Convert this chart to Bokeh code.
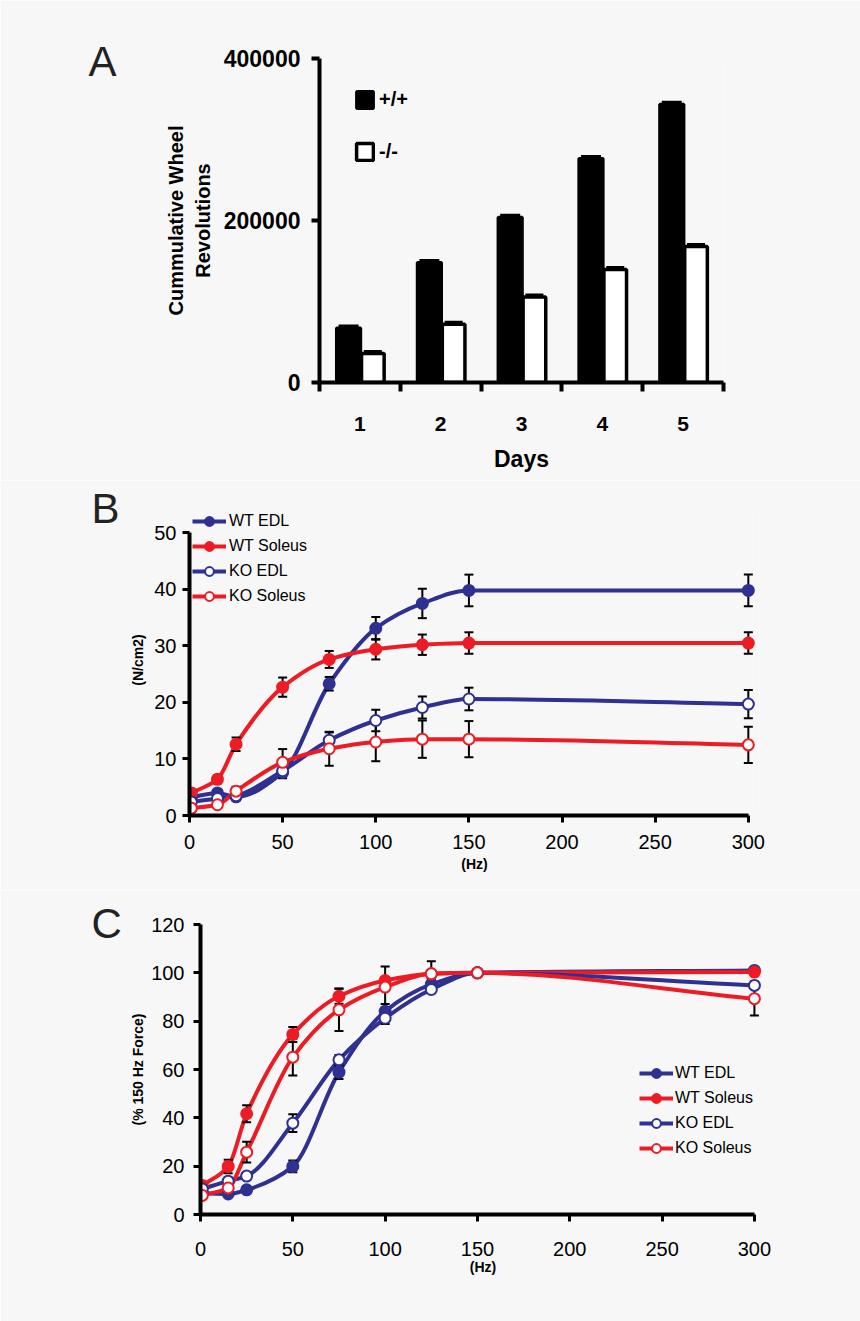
import numpy as np
from bokeh.plotting import figure
from bokeh.models import (ColumnDataSource, FixedTicker, SingleIntervalTicker, Legend,
                          LegendItem, BasicTickFormatter, Range1d)
from bokeh.layouts import column
from bokeh.transform import dodge
from bokeh.embed import file_html
from bokeh.resources import INLINE

# ---------------- data ----------------
# Panel A
days = [1, 2, 3, 4, 5]
wt_revs = [67400, 148000, 204000, 276500, 343500]
wt_revs_err = [2500, 2500, 2500, 2500, 2500]
ko_revs = [35800, 72000, 105500, 139500, 168000]
ko_revs_err = [2500, 2500, 2500, 2500, 2500]
a_yticks = [0, 200000, 400000]

# Panel B (N/cm2)
hz = [1, 15, 25, 50, 75, 100, 125, 150, 300]
b_wt_edl = [3.2, 4.0, 3.3, 7.6, 23.3, 33.1, 37.5, 39.8, 39.8]
b_wt_edl_err = [0.3, 0.4, 0.5, 1.0, 1.2, 2.0, 2.6, 2.8, 2.8]
b_wt_sol = [4.0, 6.4, 12.6, 22.7, 27.6, 29.4, 30.2, 30.5, 30.5]
b_wt_sol_err = [0.3, 0.7, 1.2, 1.7, 1.5, 1.8, 1.8, 1.9, 1.9]
b_ko_edl = [2.4, 3.0, 3.5, 7.9, 13.3, 16.8, 19.1, 20.6, 19.7]
b_ko_edl_err = [0.3, 0.4, 0.6, 0.9, 1.4, 1.9, 1.95, 2.0, 2.5]
b_ko_sol = [1.3, 1.9, 4.3, 9.4, 11.8, 13.0, 13.5, 13.5, 12.5]
b_ko_sol_err = [0.3, 0.4, 0.8, 2.35, 3.0, 3.4, 3.3, 3.2, 3.2]

# Panel C (% 150 Hz force)
c_wt_edl = [8.8, 8.5, 10.2, 19.9, 58.9, 84.1, 95.2, 100, 101]
c_wt_edl_err = [0.5, 0.8, 1.0, 2.4, 2.8, 3.0, 2.0, 0, 1.0]
c_wt_sol = [12.0, 19.9, 41.7, 74.5, 90.3, 96.8, 99.6, 100, 100.3]
c_wt_sol_err = [0.8, 2.8, 3.5, 3.1, 3.1, 1.5, 1.0, 0, 1.0]
c_ko_edl = [10.6, 13.8, 15.9, 37.8, 64.0, 81.2, 93.1, 100, 94.8]
c_ko_edl_err = [0.6, 1.0, 1.5, 3.7, 2.0, 2.4, 1.5, 0, 1.5]
c_ko_sol = [7.9, 11.0, 25.8, 65.1, 84.7, 94.1, 99.6, 100, 89.3]
c_ko_sol_err = [0.6, 1.0, 4.3, 7.6, 8.8, 8.5, 5.2, 0, 7.0]

series_names = ["WT EDL", "WT Soleus", "KO EDL", "KO Soleus"]

# ---------------- style ----------------
BG = "#f7f7f7"
NAVY = "#2e3192"
RED = "#ed1c24"
FONT = "Liberation Sans"


def style_fig(p, letter, offset, standoff):
    p.xgrid.grid_line_color = None
    p.ygrid.grid_line_color = None
    p.outline_line_color = None
    p.background_fill_color = BG
    p.border_fill_color = BG
    for ax in p.axis:
        ax.axis_line_width = 4
        ax.axis_line_color = "black"
        ax.major_tick_line_width = 3
        ax.major_tick_line_color = "black"
        ax.major_tick_in = 0
        ax.major_tick_out = 7
        ax.minor_tick_line_color = None
        ax.major_label_text_font = FONT
        ax.axis_label_text_font = FONT
        ax.major_label_text_color = "black"
        ax.axis_label_text_color = "black"
    p.title.text = letter
    p.title.align = "left"
    p.title.vertical_align = "bottom"
    p.title.offset = offset
    p.title.standoff = standoff
    p.title.text_font = FONT
    p.title.text_font_size = "42px"
    p.title.text_font_style = "normal"
    p.title.text_color = "#222222"


def pchip_bezier(x, y):
    x = np.asarray(x, float)
    y = np.asarray(y, float)
    h = np.diff(x)
    d = np.diff(y) / h
    n = len(x)
    m = np.zeros(n)
    m[0] = d[0]
    m[-1] = d[-1]
    for i in range(1, n - 1):
        if d[i - 1] * d[i] <= 0:
            m[i] = 0.0
        else:
            w1 = 2 * h[i] + h[i - 1]
            w2 = h[i] + 2 * h[i - 1]
            m[i] = (w1 + w2) / (w1 / d[i - 1] + w2 / d[i])
    return dict(x0=x[:-1], y0=y[:-1], x1=x[1:], y1=y[1:],
                cx0=x[:-1] + h / 3, cy0=y[:-1] + m[:-1] * h / 3,
                cx1=x[1:] - h / 3, cy1=y[1:] - m[1:] * h / 3)


def add_errors(p, x, y, e):
    xs = [xi for xi, ei in zip(x, e) if ei > 0]
    lo = [yi - ei for yi, ei in zip(y, e) if ei > 0]
    hi = [yi + ei for yi, ei in zip(y, e) if ei > 0]
    p.segment(x0=xs, y0=lo, x1=xs, y1=hi, line_color="black", line_width=2)
    p.scatter(x=xs + xs, y=lo + hi, marker="dash", size=9,
              line_color="black", line_width=2)


def line_panel(p, ys, errs):
    colors = [NAVY, RED, NAVY, RED]
    fills = [NAVY, RED, "white", "white"]
    lines = []
    for yv, c in zip(ys, colors):
        src = ColumnDataSource(pchip_bezier(hz, yv))
        r = p.bezier(x0="x0", y0="y0", x1="x1", y1="y1", cx0="cx0", cy0="cy0",
                     cx1="cx1", cy1="cy1", source=src, line_color=c, line_width=4)
        lines.append(r)
    for yv, ev in zip(ys, errs):
        add_errors(p, hz, yv, ev)
    marks = []
    for yv, c, f in zip(ys, colors, fills):
        r = p.scatter(x=hz, y=yv, size=11, marker="circle", fill_color=f,
                      line_color=c, line_width=2)
        marks.append(r)
    items = [LegendItem(label=n, renderers=[l, m])
             for n, l, m in zip(series_names, lines, marks)]
    return items


def curve_axes(p, ytick, ylabel, xstand, ystand, xlstand, ylstand, ytop):
    p.xaxis.ticker = SingleIntervalTicker(interval=50)
    p.xaxis.bounds = (0, 300)
    p.yaxis.ticker = SingleIntervalTicker(interval=ytick)
    p.yaxis.bounds = (0, ytop)
    p.xaxis.major_label_text_font_size = "20px"
    p.yaxis.major_label_text_font_size = "20px"
    p.xaxis.major_label_standoff = xstand
    p.yaxis.major_label_standoff = ystand
    p.xaxis.axis_label = "(Hz)"
    p.yaxis.axis_label = ylabel
    for ax in p.axis:
        ax.axis_label_text_font_size = "14px"
        ax.axis_label_text_font_style = "bold"
    p.xaxis.axis_label_standoff = xlstand
    p.yaxis.axis_label_standoff = ylstand


# ---------------- Panel A ----------------
pa = figure(width=860, height=480, x_range=Range1d(0.5, 5.5), y_range=Range1d(0, 400000),
            output_backend="svg", toolbar_location=None, frame_align=False,
            min_border_left=319, min_border_right=137, min_border_top=58, min_border_bottom=98)
style_fig(pa, "A", -231, -52)
src_a = ColumnDataSource(dict(day=days, wt=wt_revs, ko=ko_revs,
                              wt_hi=[v + e for v, e in zip(wt_revs, wt_revs_err)],
                              ko_hi=[v + e for v, e in zip(ko_revs, ko_revs_err)]))
xw = dodge("day", -0.14, range=pa.x_range)
xk = dodge("day", 0.16, range=pa.x_range)
rw = pa.vbar(x=xw, top="wt", width=0.3, bottom=0,
             source=src_a, fill_color="black", line_color="black", line_width=3)
rk = pa.vbar(x=xk, top="ko", width=0.28, bottom=0,
             source=src_a, fill_color="white", line_color="black", line_width=3.5)
pa.segment(x0=xw, y0="wt", x1=xw, y1="wt_hi", source=src_a, line_color="black", line_width=3)
pa.scatter(x=xw, y="wt_hi", source=src_a, marker="dash", size=20, line_color="black", line_width=3)
pa.segment(x0=xk, y0="ko", x1=xk, y1="ko_hi", source=src_a, line_color="black", line_width=3)
pa.scatter(x=xk, y="ko_hi", source=src_a, marker="dash", size=18, line_color="black", line_width=3)

pa.xaxis.ticker = FixedTicker(ticks=days, minor_ticks=[0.5, 1.5, 2.5, 3.5, 4.5, 5.5])
pa.xaxis.major_tick_out = 0
pa.xaxis.major_tick_line_color = None
pa.xaxis.minor_tick_line_color = "black"
pa.xaxis.minor_tick_line_width = 4
pa.xaxis.minor_tick_in = 0
pa.xaxis.minor_tick_out = 9
pa.xaxis.major_label_text_font_size = "21px"
pa.xaxis.major_label_text_font_style = "bold"
pa.xaxis.major_label_standoff = 25
pa.xaxis.axis_label = "Days"
pa.xaxis.axis_label_text_font_size = "23px"
pa.xaxis.axis_label_text_font_style = "bold"
pa.xaxis.axis_label_standoff = 12

pa.yaxis.ticker = FixedTicker(ticks=a_yticks)
pa.yaxis.formatter = BasicTickFormatter(use_scientific=False)
pa.yaxis.major_tick_out = 8
pa.yaxis.major_tick_line_width = 4
pa.yaxis.major_label_text_font_size = "23px"
pa.yaxis.major_label_text_font_style = "bold"
pa.yaxis.major_label_standoff = 11
pa.yaxis.axis_label = "Cummulative Wheel\nRevolutions"
pa.yaxis.axis_label_text_font_size = "20px"
pa.yaxis.axis_label_text_font_style = "bold"
pa.yaxis.axis_label_standoff = 7

leg_a = Legend(items=[LegendItem(label="+/+", renderers=[rw]), LegendItem(label="-/-", renderers=[rk])],
               location=(35, 219), glyph_width=21, glyph_height=21, label_height=21, spacing=29,
               label_standoff=4, padding=0, margin=0, border_line_color=None,
               background_fill_alpha=0, label_text_font=FONT, label_text_font_size="20px",
               label_text_font_style="bold", label_text_color="black")
pa.add_layout(leg_a)

# ---------------- Panel B ----------------
pb = figure(width=860, height=410, x_range=Range1d(0, 306), y_range=Range1d(0, 55),
            output_backend="svg", toolbar_location=None, frame_align=False,
            min_border_left=189, min_border_right=101, min_border_top=24, min_border_bottom=75)
style_fig(pb, "B", -98, -54)
items_b = line_panel(pb, [b_wt_edl, b_wt_sol, b_ko_edl, b_ko_sol],
                     [b_wt_edl_err, b_wt_sol_err, b_ko_edl_err, b_ko_sol_err])
curve_axes(pb, 10, "(N/cm2)", 12, 6, 4, 5, 50)
leg_b = Legend(items=items_b, location=(3, 208), glyph_width=34, glyph_height=22, label_height=22,
               spacing=3, label_standoff=3, padding=0, margin=0, border_line_color=None,
               background_fill_alpha=0, label_text_font=FONT, label_text_font_size="16px",
               label_text_color="black")
pb.add_layout(leg_b)

# ---------------- Panel C ----------------
pc = figure(width=860, height=431, x_range=Range1d(0, 306), y_range=Range1d(0, 120),
            output_backend="svg", toolbar_location=None, frame_align=False,
            min_border_left=200, min_border_right=95, min_border_top=34, min_border_bottom=107)
style_fig(pc, "C", -109, -44)
items_c = line_panel(pc, [c_wt_edl, c_wt_sol, c_ko_edl, c_ko_sol],
                     [c_wt_edl_err, c_wt_sol_err, c_ko_edl_err, c_ko_sol_err])
curve_axes(pc, 20, "(% 150 Hz Force)", 20, 9, 0, 2, 120)
leg_c = Legend(items=items_c, location=(439, 55), glyph_width=34, glyph_height=22, label_height=22,
               spacing=3, label_standoff=2, padding=0, margin=0, border_line_color=None,
               background_fill_alpha=0, label_text_font=FONT, label_text_font_size="16px",
               label_text_color="black")
pc.add_layout(leg_c)

layout = column(pa, pb, pc, spacing=0)
with open("out.html", "w") as f:
    f.write(file_html(layout, INLINE))
